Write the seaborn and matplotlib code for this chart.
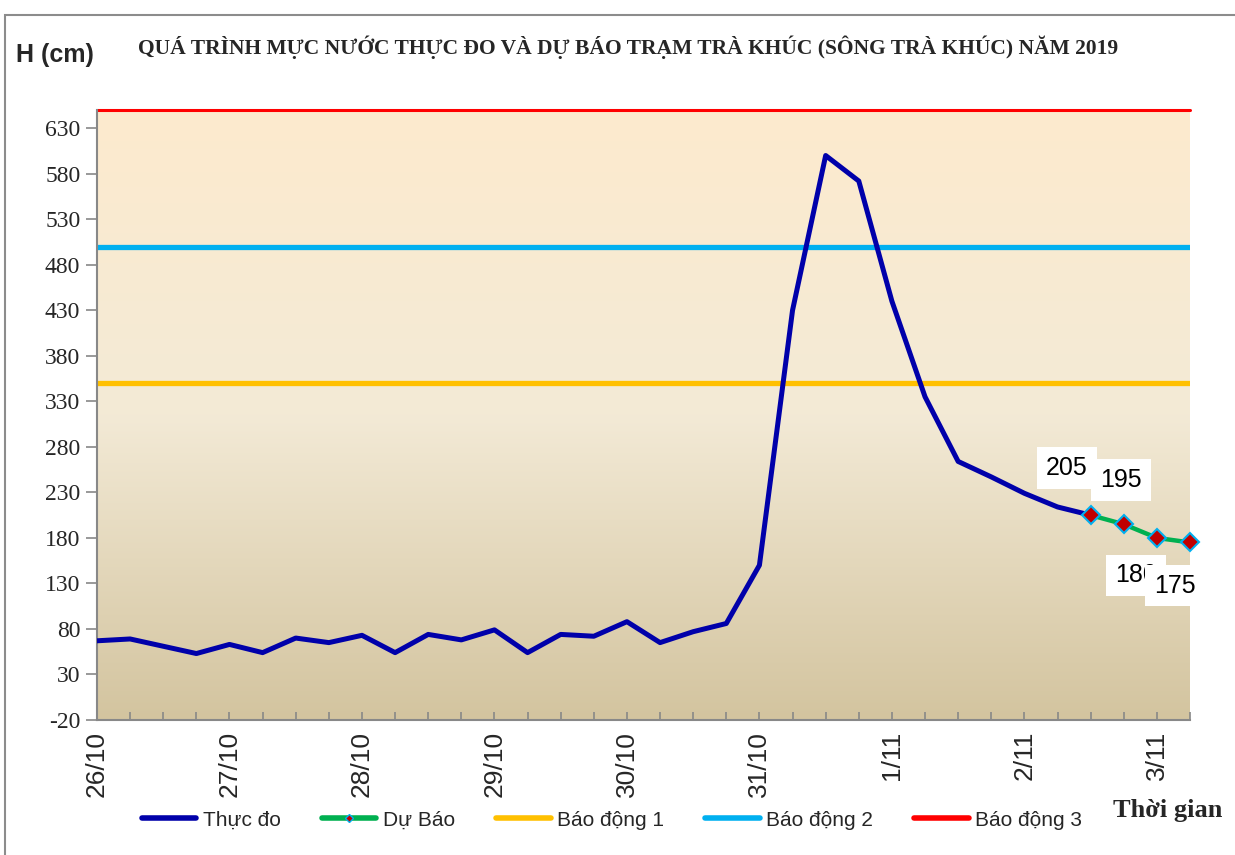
import numpy as np
import pandas as pd
import matplotlib
matplotlib.use("Agg")
import matplotlib.pyplot as plt
import seaborn as sns
from matplotlib.colors import LinearSegmentedColormap
from matplotlib.patches import Rectangle
from matplotlib.ticker import MultipleLocator, FixedLocator, FixedFormatter

# Muc nuoc thuc do (cm), 6 gio mot so lieu tu 26/10 00h
thuc_do = [67, 69, 61, 53, 63, 54, 70, 65, 73, 54, 74, 68, 79, 54, 74, 72, 88, 65, 77, 86,
           150, 430, 600, 572, 440, 335, 264, 247, 229, 214, 205]
# Du bao tiep theo
du_bao = [205, 195, 180, 175]
# Cac cap bao dong
bao_dong_1 = 350
bao_dong_2 = 500
bao_dong_3 = 650
ngay = ["26/10", "27/10", "28/10", "29/10", "30/10", "31/10", "1/11", "2/11", "3/11"]
y_ticks = list(range(-20, 631, 50))

df_obs = pd.DataFrame({"buoc": np.arange(len(thuc_do)), "H": thuc_do})
df_fc = pd.DataFrame({"buoc": np.arange(len(thuc_do) - 1, len(thuc_do) - 1 + len(du_bao)), "H": du_bao})

sns.set_theme(style="white")
plt.rcParams["font.family"] = ["Liberation Sans", "DejaVu Sans"]
plt.rcParams["axes.unicode_minus"] = False

fig = plt.figure(figsize=(12.35, 8.55), dpi=100)
ax = fig.add_axes([97 / 1235, 1 - 720 / 855, (1190 - 97) / 1235, (720 - 110) / 855])

x_max = len(thuc_do) - 1 + len(du_bao) - 1
y_min, y_max = -20, bao_dong_3

# nen gradient
cmap = LinearSegmentedColormap.from_list("nen", ["#FDEBCE", "#F3EAD6", "#D3C49F"])
ax.imshow(np.linspace(0, 1, 256).reshape(-1, 1), cmap=cmap, aspect="auto",
          extent=[0, x_max, y_min, y_max], origin="upper", zorder=0)

# duong bao dong
ax.axhline(bao_dong_1, color="#FFC000", lw=3.8, zorder=2)
ax.axhline(bao_dong_2, color="#00B0F0", lw=3.8, zorder=2)
ax.axhline(bao_dong_3, color="#FF0000", lw=2.2, zorder=2, clip_on=False)

sns.lineplot(data=df_obs, x="buoc", y="H", color="#0000AA", lw=3.6, ax=ax, zorder=4,
             legend=False, solid_joinstyle="round", solid_capstyle="round")
sns.lineplot(data=df_fc, x="buoc", y="H", color="#00B050", lw=3.2, ax=ax, zorder=5,
             marker="D", markersize=9, markerfacecolor="#C00000",
             markeredgecolor="#00B0F0", markeredgewidth=1.5, legend=False, clip_on=False)

# nhan gia tri du bao
offsets = [(-17, 34), (-2, 32), (-15, -27), (-11, -31)]
for k, (xv, yv) in enumerate(zip(df_fc["buoc"], df_fc["H"])):
    ax.annotate(f"{yv}", (xv, yv), xytext=offsets[k], textcoords="offset points",
                ha="center", va="center", fontsize=18, color="black", zorder=10 + k,
                bbox=dict(boxstyle="square,pad=0.35", fc="white", ec="none"),
                annotation_clip=False)

ax.set_xlim(0, x_max)
ax.set_ylim(y_min, y_max)
ax.set_xlabel("")
ax.set_ylabel("")

ax.xaxis.set_major_locator(FixedLocator(np.arange(0, x_max + 1, 4)))
ax.xaxis.set_major_formatter(FixedFormatter(ngay))
ax.xaxis.set_minor_locator(MultipleLocator(1))
ax.tick_params(axis="x", which="both", direction="in", length=6, width=1.2,
               color="#888888", labelsize=19, rotation=90, pad=8, bottom=True)
ax.set_yticks(y_ticks)
ax.tick_params(axis="y", direction="out", length=8, width=1.2, color="#888888",
               labelsize=17, left=True, pad=4)
for lab in ax.get_yticklabels():
    lab.set_family("Liberation Serif")

for side in ["top", "right"]:
    ax.spines[side].set_visible(False)
for side in ["left", "bottom"]:
    ax.spines[side].set_color("#888888")
    ax.spines[side].set_linewidth(1.5)
ax.grid(False)

# chu
fig.text(55 / 1235, 1 - 55 / 855, "H (cm)", ha="center", va="center",
         fontsize=18, fontweight="bold")
fig.text(628 / 1235, 1 - 47 / 855,
         "QUÁ TRÌNH MỰC NƯỚC THỰC ĐO VÀ DỰ BÁO TRẠM TRÀ KHÚC (SÔNG TRÀ KHÚC) NĂM 2019",
         ha="center", va="center", fontsize=15.5, fontweight="bold", family="Liberation Serif")
fig.text(1168 / 1235, 1 - 810 / 855, "Thời gian", ha="center", va="center",
         fontsize=19, fontweight="bold", family="Liberation Serif")

# chu thich
handles = [
    plt.Line2D([], [], color="#0000AA", lw=4),
    plt.Line2D([], [], color="#00B050", lw=4, marker="D", markersize=4,
               markerfacecolor="#C00000", markeredgecolor="#00B0F0"),
    plt.Line2D([], [], color="#FFC000", lw=4),
    plt.Line2D([], [], color="#00B0F0", lw=4),
    plt.Line2D([], [], color="#FF0000", lw=4),
]
labels = ["Thực đo", "Dự Báo", "Báo động 1", "Báo động 2", "Báo động 3"]
fig.legend(handles, labels, loc="center", bbox_to_anchor=(612 / 1235, 1 - 820 / 855),
           ncol=5, frameon=False, fontsize=15, handlelength=2.6, handletextpad=0.3,
           columnspacing=2.0)

# khung ngoai
fig.patches.append(Rectangle((5 / 1235, -0.1), 1.2, 1.1 - 15 / 855,
                             transform=fig.transFigure, fill=False,
                             edgecolor="#8C8C8C", lw=1.5))

fig.savefig("out.png", dpi=100)
